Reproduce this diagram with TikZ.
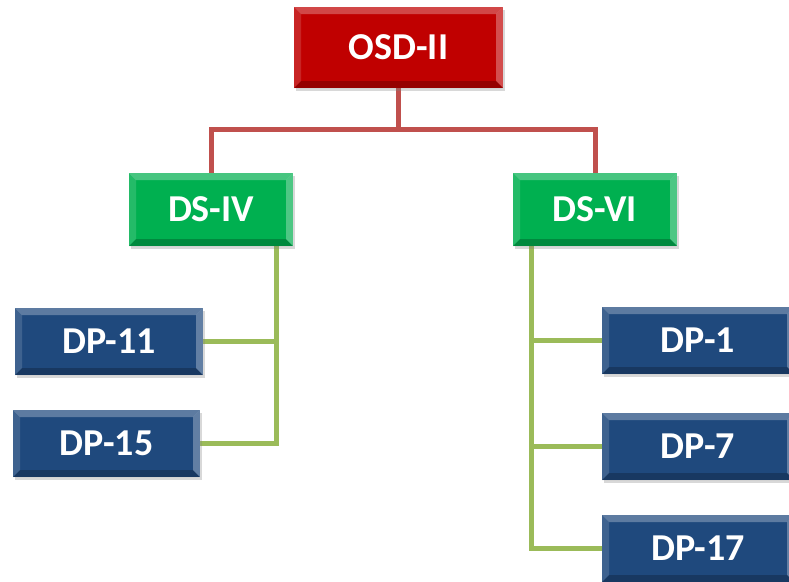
\documentclass[tikz,border=0pt]{standalone}
\usepackage{fontspec}
\setmainfont{Carlito}
\usetikzlibrary{shadows,backgrounds,calc}
\definecolor{boxred}{HTML}{C00000}
\definecolor{boxgreen}{HTML}{00B050}
\definecolor{boxblue}{HTML}{1F497D}
\definecolor{linered}{HTML}{C0504D}
\definecolor{linegreen}{HTML}{9BBB59}
\tikzset{
  bevelbox/.style={
    fill=#1, draw=none, inner sep=0pt, text=white,
    font=\fontsize{38}{44}\selectfont\bfseries,
    drop shadow={shadow xshift=2pt, shadow yshift=-3pt, opacity=0.3},
    path picture={
      \def\bv{7pt}
      \coordinate (NW) at (path picture bounding box.north west);
      \coordinate (NE) at (path picture bounding box.north east);
      \coordinate (SW) at (path picture bounding box.south west);
      \coordinate (SE) at (path picture bounding box.south east);
      \fill[white,opacity=0.28] (NW) -- (NE) -- ([shift={(-\bv,-\bv)}]NE) -- ([shift={(\bv,-\bv)}]NW) -- cycle;
      \fill[white,opacity=0.14] (NW) -- ([shift={(\bv,-\bv)}]NW) -- ([shift={(\bv,\bv)}]SW) -- (SW) -- cycle;
      \fill[white,opacity=0.30] (NE) -- ([shift={(-\bv,-\bv)}]NE) -- ([shift={(-\bv,\bv)}]SE) -- (SE) -- cycle;
      \fill[black,opacity=0.22] (SW) -- ([shift={(\bv,\bv)}]SW) -- ([shift={(-\bv,\bv)}]SE) -- (SE) -- cycle;
    }
  },
  redline/.style={draw=linered, line width=5pt},
  greenline/.style={draw=linegreen, line width=5pt}
}
\begin{document}
\begin{tikzpicture}[x=1pt,y=-1pt]
\useasboundingbox (0,0) rectangle (789,581);
\node[bevelbox=boxred, minimum width=209pt, minimum height=81pt] (osd) at (398.5,47.5) {OSD-II};
\node[bevelbox=boxgreen, minimum width=164pt, minimum height=73pt] (ds4) at (211,209.5) {DS-IV};
\node[bevelbox=boxgreen, minimum width=164pt, minimum height=73pt] (ds6) at (595,209.5) {DS-VI};
\node[bevelbox=boxblue, minimum width=188pt, minimum height=67pt] (dp11) at (109,341.5) {DP-11};
\node[bevelbox=boxblue, minimum width=187pt, minimum height=67pt] (dp15) at (106.5,443.5) {DP-15};
\node[bevelbox=boxblue, minimum width=192pt, minimum height=67pt] (dp1) at (698,340.5) {DP-1};
\node[bevelbox=boxblue, minimum width=192pt, minimum height=67pt] (dp7) at (698,446.5) {DP-7};
\node[bevelbox=boxblue, minimum width=192pt, minimum height=67pt] (dp17) at (698,548.5) {DP-17};
\coordinate (rj) at (398.5,129);
\coordinate (lx) at (276,0);
\coordinate (rx) at (531,0);
\begin{scope}[on background layer]
\fill[white] (0,0) rectangle (789,581);
\draw[redline] (osd.south) -- (rj);
\draw[redline] (ds4.north) |- (rj) -| (ds6.north);
\draw[greenline] (ds4.south -| lx) |- (dp15.east);
\draw[greenline] (dp11.east) -- (dp11.east -| lx);
\draw[greenline] (ds6.south -| rx) |- (dp17.west);
\draw[greenline] (dp1.west -| rx) -- (dp1.west);
\draw[greenline] (dp7.west -| rx) -- (dp7.west);
\end{scope}
\end{tikzpicture}
\end{document}
